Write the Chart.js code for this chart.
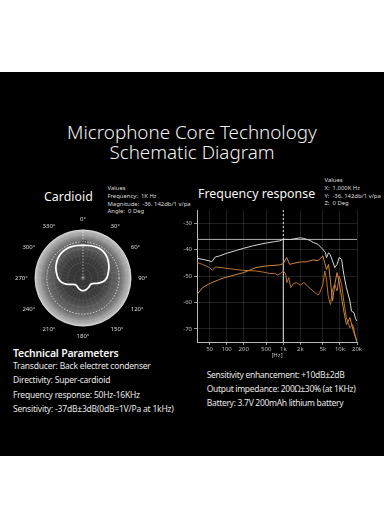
<!DOCTYPE html>
<html>
<head>
<meta charset="utf-8">
<script src="https://cdn.jsdelivr.net/npm/chart.js@4.4.0/dist/chart.umd.min.js"></script>
<style>
html, body { margin: 0; padding: 0; background: #fff; }
body { width: 384px; height: 528px; position: relative; overflow: hidden; font-family: "Noto Sans", sans-serif; }
#panel { position: absolute; left: 0; top: 72px; width: 384px; height: 384px; background: #000; }
.t { position: absolute; color: #eee; white-space: nowrap; }
.title { left: 0; width: 384px; text-align: center; font-size: 18.8px; font-weight: 300; line-height: 20px; color: #f2f2f2; }
.head { font-size: 12.4px; line-height: 16px; color: #f5f5f5; }
.vals { font-size: 5.9px; line-height: 7.8px; color: #ddd; }
.params { font-size: 8.5px; line-height: 14.6px; color: #e6e6e6; letter-spacing: -0.2px; }
canvas { position: absolute; }
</style>
</head>
<body>
<div id="panel"></div>

<div class="t title" style="top:121.5px">Microphone Core Technology</div>
<div class="t title" style="top:141.5px">Schematic Diagram</div>

<div class="t head" style="left:44px; top:188.5px">Cardioid</div>
<div class="t vals" style="left:107.5px; top:185px">Values<br>Frequency:&nbsp; 1K Hz<br>Magnitude:&nbsp; -36. 142db/1 v/pa<br>Angle:&nbsp; 0 Deg</div>

<div class="t head" style="left:198px; top:186px">Frequency response</div>
<div class="t vals" style="left:324.5px; top:177px">Values<br>X:&nbsp; 1.000K Hz<br>Y:&nbsp; -36. 142db/1 v/pa<br>Z:&nbsp; 0 Deg</div>

<div class="t head" style="left:13px; top:345.5px; font-size:10.5px; font-weight:600; line-height:14px; letter-spacing:-0.2px">Technical Parameters</div>
<div class="t params" style="left:13px; top:358.7px">Transducer: Back electret condenser<br>Directivity: Super-cardioid<br>Frequency response: 50Hz-16KHz<br>Sensitivity: -37dB±3dB(0dB=1V/Pa at 1kHz)</div>
<div class="t params" style="left:206.7px; top:367.9px; line-height:14.2px; letter-spacing:-0.3px">Sensitivity enhancement: +10dB±2dB<br>Output impedance: 200Ω±30% (at 1KHz)<br>Battery: 3.7V 200mAh lithium battery</div>

<canvas id="polar" width="136" height="136" style="left:13.5px; top:209.5px"></canvas>
<canvas id="freq" width="188" height="160" style="left:176px; top:204px"></canvas>

<script>
// polar pattern, 1 kHz (dB per 10 deg, 0 deg at top)
const polarAngles = [0, 10, 20, 30, 40, 50, 60, 70, 80, 90, 100, 110, 120, 130, 140, 150, 160, 170,
                     180, 190, 200, 210, 220, 230, 240, 250, 260, 270, 280, 290, 300, 310, 320, 330, 340, 350];
const polarDb = [-42.0, -41.8, -41.5, -41.4, -41.7, -42.6, -43.8, -45.0, -46.2, -47.2, -49.0, -52.0,
                 -54.5, -55.2, -55.0, -54.6, -54.2, -53.8, -53.6, -53.8, -54.2, -54.8, -55.2, -55.0,
                 -53.5, -50.5, -48.0, -46.5, -45.4, -44.2, -43.2, -42.3, -41.7, -41.5, -41.6, -41.8];
const polarTickLabels = [-40, -50];

// frequency response
const freqTicks = [50, 100, 200, 500, 1000, 2000, 5000, 10000, 20000];
const freqTickLabels = ['50', '100', '200', '500', '1k', '2k', '5k', '10k', '20k'];
const dbTicks = [-70, -60, -50, -40, -30];

const whiteHz = [30, 40, 50, 55, 63, 75, 100, 150, 200, 300, 500, 700, 860, 1000, 1300, 1600, 2000, 2300,
                 2600, 3000, 3400, 4100, 5000, 5500, 5800, 6300, 6700, 7400, 8100, 8900, 9700, 10700,
                 11700, 13000, 14000, 15000, 16000, 17700, 18700, 20000];
const whiteDb = [-43.3, -43.8, -44.3, -44.6, -42.8, -42.4, -41.4, -40.3, -39.5, -38.5, -37.5, -37.0, -36.7,
                 -36.1, -36.2, -35.9, -35.5, -35.8, -36.1, -36.6, -37.3, -38.0, -39.9, -41.0, -43.0, -41.2,
                 -41.8, -44.3, -46.8, -45.6, -43.0, -43.7, -49.4, -54.4, -57.0, -59.5, -63.3, -63.9, -66.0, -67.1];

const orangeAHz = [30, 37.5, 45, 50, 56, 63, 80, 100, 200, 330, 500, 570, 700, 800, 900, 1000, 1100, 1160,
                   1250, 1350, 1500, 1700, 2000, 2300, 2700, 3350, 4100, 4400, 5000, 5400, 5800, 6200, 6800,
                   7400, 8100, 8900, 9700, 10700, 11700, 13000, 15000, 16800, 18800, 20000];
const orangeADb = [-44.9, -45.6, -46.4, -46.8, -47.9, -46.6, -46.8, -47.1, -47.9, -48.1, -48.7, -49.1, -49.0,
                   -49.6, -49.0, -48.1, -49.2, -52.5, -50.6, -54.4, -53.0, -52.5, -53.5, -52.5, -53.8, -55.7,
                   -57.2, -56.3, -53.2, -48.1, -51.3, -57.6, -60.8, -55.1, -53.2, -55.7, -50.0, -53.2, -59.5,
                   -65.8, -69.6, -68.4, -72.8, -75.0];

const orangeBHz = [30, 37.5, 50, 75, 100, 200, 330, 500, 860, 1000, 1150, 1290, 1600, 2000, 2560, 3350, 4100,
                   5000, 5400, 5800, 6300, 6800, 7400, 8100, 8900, 9700, 10700, 11700, 13000, 15000, 17300, 20000];
const orangeBDb = [-57.0, -54.4, -52.9, -51.3, -50.4, -48.7, -46.8, -46.2, -45.8, -45.3, -43.0, -45.6, -45.1,
                   -44.7, -44.6, -43.9, -44.2, -42.4, -45.1, -47.6, -45.6, -52.0, -59.5, -53.2, -48.7, -52.5,
                   -58.2, -63.3, -68.4, -65.8, -70.9, -75.0];

const cursorHz = 1000;
const cursorDb = -36.142;

const FONT = 'Noto Sans';

// fond gris en dégradé du diagramme polaire
const polarBg = {
    id: 'polarBg',
    beforeDraw(chart) {
        const s = chart.scales.r;
        const ctx = chart.ctx;
        const g = ctx.createRadialGradient(s.xCenter, s.yCenter, 0, s.xCenter, s.yCenter, s.drawingArea);
        g.addColorStop(0, '#262626');
        g.addColorStop(0.45, '#3e3e3e');
        g.addColorStop(0.78, '#707070');
        g.addColorStop(0.94, '#aeaeae');
        g.addColorStop(1, '#cccccc');
        ctx.save();
        ctx.beginPath();
        ctx.arc(s.xCenter, s.yCenter, s.drawingArea, 0, Math.PI * 2);
        ctx.fillStyle = g;
        ctx.fill();
        ctx.restore();
    }
};

new Chart(document.getElementById('polar'), {
    type: 'radar',
    data: {
        labels: polarAngles.map(a => a + '°'),
        datasets: [{
            data: polarDb,
            borderColor: '#ffffff',
            borderWidth: 1.7,
            pointRadius: 0,
            tension: 0.4,
            fill: false
        }]
    },
    options: {
        responsive: false,
        animation: false,
        layout: { padding: 0 },
        plugins: { legend: { display: false }, tooltip: { enabled: false } },
        scales: {
            r: {
                min: -61,
                max: -33,
                startAngle: 0,
                afterBuildTicks(s) {
                    const t = [];
                    for (let v = -60; v <= -34; v += 2) t.push({ value: v });
                    t.push({ value: -33 });
                    s.ticks = t;
                },
                ticks: {
                    display: true,
                    showLabelBackdrop: false,
                    color: '#1a1a1a',
                    font: { size: 6, family: FONT },
                    callback: v => polarTickLabels.includes(v) ? String(v) : ''
                },
                grid: {
                    circular: true,
                    lineWidth: 0.7,
                    color: c => {
                        if (!c.tick) return 'rgba(255,255,255,0.12)';
                        if (c.tick.value === -40) return '#ffffff';
                        if (c.tick.value === -33) return 'rgba(255,255,255,0.7)';
                        return 'rgba(255,255,255,0.12)';
                    }
                },
                border: {
                    dash: c => (c.tick && c.tick.value === -40) ? [1.5, 1.5] : []
                },
                angleLines: {
                    lineWidth: 0.6,
                    color: c => c.index === 0 ? '#ffffff' : 'rgba(255,255,255,0.1)',
                    borderDash: c => c.index === 0 ? [1.5, 1.5] : []
                },
                pointLabels: {
                    display: true,
                    color: '#dddddd',
                    padding: 2,
                    font: { size: 6, family: FONT },
                    callback: (l, i) => i % 3 === 0 ? l : ''
                }
            }
        }
    },
    plugins: [polarBg]
});

// curseurs (1 kHz / -36.142 dB)
const cursorPlugin = {
    id: 'cursor',
    beforeDatasetsDraw(chart) {
        const { ctx, chartArea: a, scales: { x, y } } = chart;
        const px = x.getPixelForValue(cursorHz);
        const py = y.getPixelForValue(cursorDb);
        ctx.save();
        ctx.lineWidth = 1;
        ctx.strokeStyle = '#b0b0b0';
        ctx.beginPath();
        ctx.moveTo(a.left, py);
        ctx.lineTo(a.right, py);
        ctx.stroke();
        ctx.strokeStyle = '#e6e6e6';
        ctx.beginPath();
        ctx.moveTo(px, py);
        ctx.lineTo(px, a.bottom);
        ctx.stroke();
        ctx.setLineDash([2, 2]);
        ctx.beginPath();
        ctx.moveTo(px, a.top);
        ctx.lineTo(px, py);
        ctx.stroke();
        ctx.restore();
    }
};

function pts(hz, db) {
    return hz.map((f, i) => ({ x: f, y: db[i] }));
}

new Chart(document.getElementById('freq'), {
    type: 'line',
    data: {
        datasets: [
            { data: pts(orangeBHz, orangeBDb), borderColor: '#cf8838' },
            { data: pts(orangeAHz, orangeADb), borderColor: '#b9702c' },
            { data: pts(whiteHz, whiteDb), borderColor: '#d6d6d6', borderWidth: 1 }
        ]
    },
    options: {
        responsive: false,
        animation: false,
        layout: { padding: { left: 0, top: 6, right: 7, bottom: 5 } },
        plugins: { legend: { display: false }, tooltip: { enabled: false } },
        elements: { point: { radius: 0 }, line: { borderWidth: 1, tension: 0 } },
        scales: {
            x: {
                type: 'logarithmic',
                min: 30,
                max: 20000,
                afterBuildTicks(s) { s.ticks = freqTicks.map(v => ({ value: v })); },
                afterFit(s) { s.height = 17; },
                ticks: {
                    color: '#bbbbbb',
                    font: { size: 6, family: FONT },
                    padding: 1,
                    maxRotation: 0,
                    autoSkip: false,
                    callback: (v, i) => freqTickLabels[i]
                },
                grid: { color: 'rgba(255,255,255,0.16)', lineWidth: 0.8, tickColor: '#bbbbbb', tickLength: 3 },
                border: { color: '#bbbbbb' },
                title: { display: true, text: '[Hz]', color: '#bbbbbb', font: { size: 6, family: FONT }, padding: 0 }
            },
            y: {
                min: -75,
                max: -25,
                afterBuildTicks(s) { s.ticks = dbTicks.map(v => ({ value: v })); },
                afterFit(s) { s.width = 21; },
                ticks: {
                    color: '#bbbbbb',
                    font: { size: 6, family: FONT },
                    padding: 2
                },
                grid: { color: 'rgba(255,255,255,0.16)', lineWidth: 0.8, tickColor: '#bbbbbb', tickLength: 3 },
                border: { color: '#bbbbbb' }
            }
        }
    },
    plugins: [cursorPlugin]
});
</script>
</body>
</html>
